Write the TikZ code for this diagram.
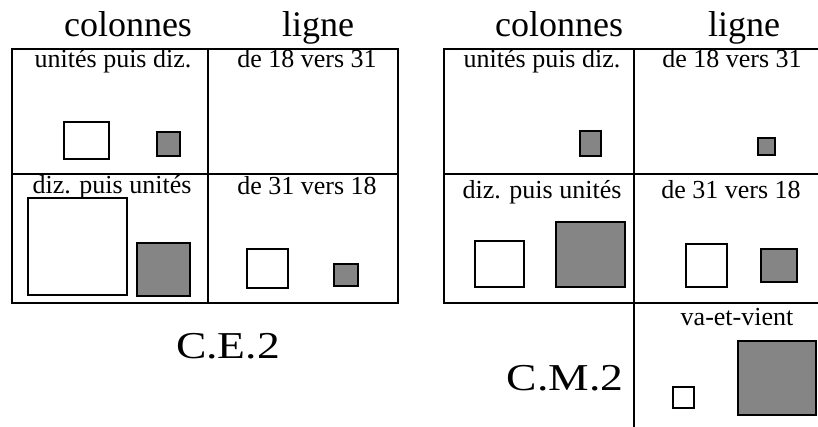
\documentclass[tikz,border=0pt]{standalone}
\usepackage{fontspec}
\setmainfont{Liberation Serif}
\begin{document}
\begin{tikzpicture}[x=1pt,y=-1pt,
  rule/.style={line width=1.4pt, line cap=rect},
  head/.style={anchor=base, inner sep=0pt, font=\fontsize{36}{40}\selectfont},
  lbl/.style={anchor=base, inner sep=0pt, font=\fontsize{26}{30}\selectfont},
  level/.style={anchor=base, inner sep=0pt, font=\fontsize{38}{42}\selectfont},
  openbox/.style={draw=black, line width=1.5pt, fill=white},
  shadebox/.style={draw=black, line width=1.5pt, fill=black!48}]
\useasboundingbox (0,0) rectangle (818,427);

% ---- C.E.2 grid ----
\draw[rule] (12,49) rectangle (398,303);
\draw[rule] (208,49) -- (208,303);
\draw[rule] (12,174) -- (398,174);

\node[head] (ceCol) at (128,37) {colonnes};
\node[head] (ceLig) at (318,37) {ligne};
\node[lbl] (ceUD) at (113,68) {unités puis diz.};
\node[lbl] (ceA) at (307,68) {de 18 vers 31};
\node[lbl] (ceDU) at (112,194) {diz. puis unités};
\node[lbl] (ceB) at (307,195) {de 31 vers 18};
\node[level] (ce) at (228,358) {\scalebox{1.2}[1]{C.E.2}};

\draw[openbox] (64,122) rectangle (109,159);
\draw[shadebox] (157,132) rectangle (180,156);
\draw[openbox] (28,198) rectangle (127,295);
\draw[shadebox] (137,243) rectangle (190,296);
\draw[openbox] (247,249) rectangle (288,288);
\draw[shadebox] (334,264) rectangle (358,286);

% ---- C.M.2 grid ----
\draw[rule] (818,49) -- (444,49) -- (444,303) -- (818,303);
\draw[rule] (444,174) -- (818,174);
\draw[rule] (634,49) -- (634,427);

\node[head] (cmCol) at (559,37) {colonnes};
\node[head] (cmLig) at (744,37) {ligne};
\node[lbl] (cmUD) at (542,68) {unités puis diz.};
\node[lbl] (cmA) at (732,68) {de 18 vers 31};
\node[lbl] (cmDU) at (542,199) {diz. puis unités};
\node[lbl] (cmB) at (731,199) {de 31 vers 18};
\node[lbl] (cmV) at (737,325) {va-et-vient};
\node[level] (cm) at (565,390) {\scalebox{1.2}[1]{C.M.2}};

\draw[shadebox] (580,131) rectangle (601,156);
\draw[shadebox] (758,138) rectangle (775,155);
\draw[openbox] (475,241) rectangle (524,287);
\draw[shadebox] (556,222) rectangle (625,287);
\draw[openbox] (686,244) rectangle (727,287);
\draw[shadebox] (761,249) rectangle (797,282);
\draw[openbox] (673,387) rectangle (694,408);
\draw[shadebox] (738,341) rectangle (816,415);
\end{tikzpicture}
\end{document}
